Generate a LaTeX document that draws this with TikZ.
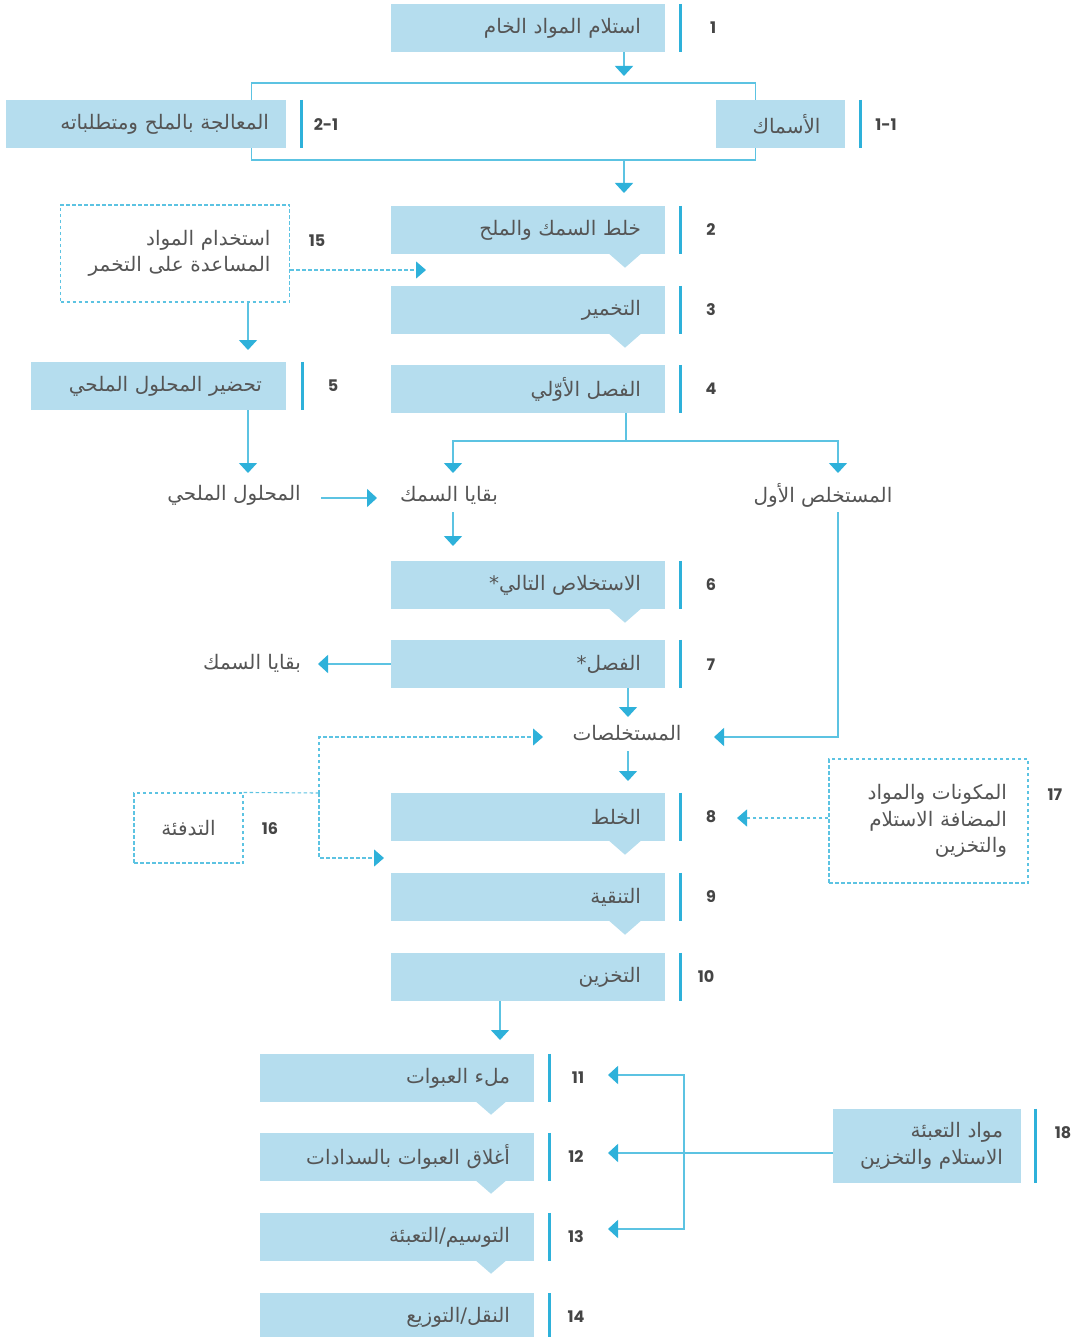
\documentclass[tikz,border=0pt]{standalone}
\usepackage{fontspec}
\usetikzlibrary{arrows.meta}
\TeXXeTstate=1
\newfontfamily\arabicfont[Script=Arabic]{DejaVu Sans}
\newfontfamily\numfont{Poppins}
\definecolor{boxblue}{HTML}{B5DDEE}
\definecolor{linecol}{HTML}{5CC3E2}
\definecolor{tipcol}{HTML}{2EB1DA}
\definecolor{barcol}{HTML}{2EB1DA}
\definecolor{txtgray}{HTML}{555555}
\definecolor{numgray}{HTML}{454545}
\newcommand\ar[1]{\beginR #1\endR}
\tikzset{
  box/.style={fill=boxblue, minimum height=48pt, inner ysep=0pt, inner xsep=24pt, align=right,
    font=\arabicfont\fontsize{20}{26.5}\selectfont, text=txtgray},
  dbox/.style={draw=linecol, dash pattern=on 3.5pt off 2.5pt, line width=1.1pt, inner ysep=0pt, inner xsep=24pt, align=right,
    font=\arabicfont\fontsize{20}{26.5}\selectfont, text=txtgray},
  free/.style={font=\arabicfont\fontsize{20}{26.5}\selectfont, text=txtgray, inner sep=0pt},
  num/.style={font=\numfont\bfseries\fontsize{16}{18}\selectfont, text=numgray, inner sep=0pt},
  bar/.style={draw=barcol, line width=3pt},
  conn/.style={draw=linecol, line width=1.5pt, -{Triangle[width=18pt,length=10pt,color=tipcol]}},
  plain/.style={draw=linecol, line width=1.5pt},
  dconn/.style={draw=linecol, line width=1.1pt, dash pattern=on 3.5pt off 2.5pt, -{Triangle[width=17pt,length=10pt,color=tipcol]}},
  dplain/.style={draw=linecol, line width=1.1pt, dash pattern=on 3.5pt off 2.5pt},
}
\begin{document}
\begin{tikzpicture}[x=1pt,y=-1pt]
\useasboundingbox (0,0) rectangle (1074,1337);
\fill[white] (0,0) rectangle (1074,1337);

% frame around 1-1 / 2-1
\draw[draw=linecol, line width=1.5pt] (251.5,83) rectangle (755.5,160);
\coordinate (frame) at (624,160);

% main column boxes
\node[box, text width=226pt] (b1) at (528,28) {\ar{استلام المواد الخام}};
\node[box, text width=81pt] (b11a) at (780,124) {\ar{الأسماك}};
\node[box, text width=246pt, inner xsep=17pt] (b21) at (146,124) {\ar{المعالجة بالملح ومتطلباته}};
\node[box, text width=226pt] (b2) at (528,230) {\ar{خلط السمك والملح}};
\node[box, text width=226pt] (b3) at (528,310) {\ar{التخمير}};
\node[box, text width=226pt] (b4) at (528,389) {\ar{الفصل الأوّلي}};
\node[box, text width=207pt] (b5) at (158.5,386) {\ar{تحضير المحلول الملحي}};
\node[dbox, text width=191pt, inner xsep=19pt, minimum height=97pt] (b15) at (175,253.5) {\ar{استخدام المواد}\\\ar{المساعدة على التخمر}};
\node[box, text width=226pt] (b6) at (528,585) {\ar{الاستخلاص التالي*}};
\node[box, text width=226pt] (b7) at (528,664) {\ar{الفصل*}};
\node[box, text width=226pt] (b8) at (528,817) {\ar{الخلط}};
\node[box, text width=226pt] (b9) at (528,897) {\ar{التنقية}};
\node[box, text width=226pt] (b10) at (528,977) {\ar{التخزين}};
\node[dbox, text width=109pt, inner xsep=0pt, align=center, minimum height=70pt] (b16) at (188.5,828) {\ar{التدفئة}};
\node[dbox, text width=157pt, inner xsep=21pt, minimum height=124pt] (b17) at (928.5,821) {\ar{المكونات والمواد}\\\ar{المضافة الاستلام}\\\ar{والتخزين}};
\node[box, text width=226pt] (b11) at (397,1078) {\ar{ملء العبوات}};
\node[box, text width=226pt] (b12) at (397,1157) {\ar{أغلاق العبوات بالسدادات}};
\node[box, text width=226pt] (b13) at (397,1237) {\ar{التوسيم/التعبئة}};
\node[box, text width=226pt] (b14) at (397,1317) {\ar{النقل/التوزيع}};
\node[box, text width=152pt, inner xsep=18pt, minimum height=74pt] (b18) at (927,1146) {\ar{مواد التعبئة}\\\ar{الاستلام والتخزين}};

% notches
\foreach \b in {b2,b3,b6,b8,b9}{
  \fill[boxblue] ([xshift=81pt]\b.south) ++(0,-0.5) -- ++(16,14) -- ++(16,-14) -- cycle;
}
\foreach \b in {b11,b12,b13}{
  \fill[boxblue] ([xshift=79pt]\b.south) ++(0,-0.5) -- ++(15,13) -- ++(15,-13) -- cycle;
}

% free labels
\node[free] (brine) at (234,495) {\ar{المحلول الملحي}};
\node[free] (res1) at (449,495) {\ar{بقايا السمك}};
\node[free] (ext1) at (823,495) {\ar{المستخلص الأول}};
\node[free] (res2) at (252,663) {\ar{بقايا السمك}};
\node[free] (exts) at (627,733) {\ar{المستخلصات}};

% bars
\foreach \b in {b1,b2,b3,b4,b6,b7,b8,b9,b10}{
  \draw[bar] (680,0 |- \b.north) -- (680,0 |- \b.south);
}
\draw[bar] (860,0 |- b11a.north) -- (860,0 |- b11a.south);
\draw[bar] (301,0 |- b21.north) -- (301,0 |- b21.south);
\draw[bar] (302,0 |- b5.north) -- (302,0 |- b5.south);
\foreach \b in {b11,b12,b13}{
  \draw[bar] (549,0 |- \b.north) -- (549,0 |- \b.south);
}
\draw[bar] (549,1293) -- (549,1337);
\draw[bar] (1035,0 |- b18.north) -- (1035,0 |- b18.south);

% numbers
\node[num] (n1) at (713,28) {1};
\node[num] (n11a) at (886,125) {1-1};
\node[num] (n21) at (326,125) {2-1};
\node[num] (n2) at (711,230) {2};
\node[num] (n3) at (711,310) {3};
\node[num] (n4) at (711,389) {4};
\node[num] (n5) at (333,386) {5};
\node[num] (n15) at (317,241) {15};
\node[num] (n6) at (711,585) {6};
\node[num] (n7) at (711,665) {7};
\node[num] (n8) at (711,817) {8};
\node[num] (n9) at (711,897) {9};
\node[num] (n10) at (706,977) {10};
\node[num] (n16) at (270,829) {16};
\node[num] (n17) at (1055,795) {17};
\node[num] (n11) at (578,1078) {11};
\node[num] (n12) at (576,1157) {12};
\node[num] (n13) at (576,1237) {13};
\node[num] (n14) at (576,1317) {14};
\node[num] (n18) at (1063,1133) {18};

% connectors
\coordinate (t1) at (624,76);
\draw[conn] (b1.south -| t1) -- (t1);
\coordinate (t2) at (624,193);
\draw[conn] (frame) -- (t2);
\coordinate (t15) at (426,270);
\draw[dconn] (b15.east |- t15) -- (t15);
\coordinate (t15d) at (248,350);
\draw[conn] (b15.south -| t15d) -- (t15d);
\coordinate (tbr) at (248,473);
\draw[conn] (b5.south -| tbr) -- (tbr);
\coordinate (bra) at (321,498);
\coordinate (brb) at (377,498);
\draw[conn] (bra) -- (brb);
\coordinate (sp) at (626,441);
\coordinate (tL) at (453,473);
\coordinate (tR) at (838,473);
\draw[plain] (b4.south -| sp) -- (sp);
\draw[conn] (sp) -| (tL);
\draw[conn] (sp) -| (tR);
\coordinate (e1) at (838,512);
\coordinate (e2) at (714,737);
\draw[conn] (e1) |- (e2);
\coordinate (r1a) at (453,512);
\coordinate (r1b) at (453,546);
\draw[conn] (r1a) -- (r1b);
\coordinate (t7l) at (318,664);
\draw[conn] (b7.west) -- (t7l);
\coordinate (t7d) at (628,717);
\draw[conn] (b7.south -| t7d) -- (t7d);
\coordinate (x1) at (628,751);
\coordinate (x2) at (628,781);
\draw[conn] (x1) -- (x2);
\coordinate (j16) at (319,793);
\coordinate (t16a) at (543,737);
\coordinate (t16b) at (384,858);
\draw[dplain] (b16.north east) -- (j16);
\draw[dconn] (j16) |- (t16a);
\draw[dconn] (j16) |- (t16b);
\coordinate (t17) at (737,818);
\draw[dconn] (b17.west |- t17) -- (t17);
\coordinate (t10) at (500,1040);
\draw[conn] (b10.south -| t10) -- (t10);
\coordinate (k) at (684,1153);
\coordinate (t11) at (608,1075);
\coordinate (t12) at (608,1153);
\coordinate (t13) at (608,1229);
\draw[conn] (b18.west |- t12) -- (t12);
\draw[conn] (k) |- (t11);
\draw[conn] (k) |- (t13);
\end{tikzpicture}
\end{document}
